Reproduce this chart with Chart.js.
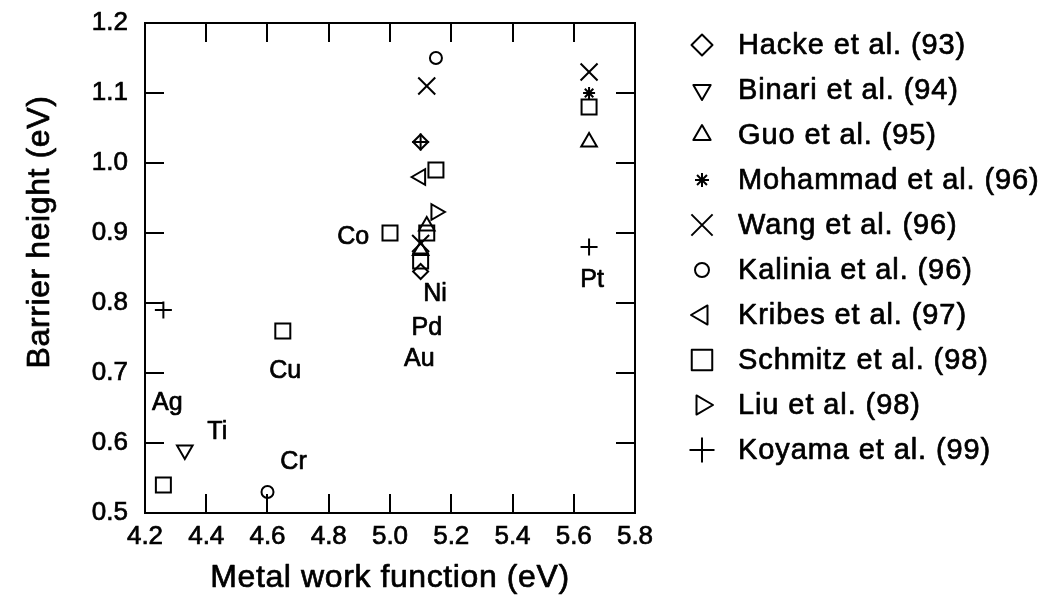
<!DOCTYPE html>
<html>
<head>
<meta charset="utf-8">
<script src="https://cdn.jsdelivr.net/npm/chart.js@4/dist/chart.umd.min.js"></script>
<style>
html,body{margin:0;padding:0;background:#fff;}
#wrap{width:1047px;height:597px;position:relative;}
</style>
</head>
<body>
<div id="wrap"><canvas id="c" width="1047" height="597"></canvas></div>
<script>
// ---- data ----
const xTickValues = [4.2, 4.4, 4.6, 4.8, 5.0, 5.2, 5.4, 5.6, 5.8];
const yTickValues = [0.5, 0.6, 0.7, 0.8, 0.9, 1.0, 1.1, 1.2];
const xTitle = 'Metal work function (eV)';
const yTitle = 'Barrier height (eV)';

const seriesNames = ['Hacke et al. (93)', 'Binari et al. (94)', 'Guo et al. (95)', 'Mohammad et al. (96)',
  'Wang et al. (96)', 'Kalinia et al. (96)', 'Kribes et al. (97)', 'Schmitz et al. (98)',
  'Liu et al. (98)', 'Koyama et al. (99)'];

const hackeX = [5.10, 5.10];            const hackeY = [1.03, 0.845];
const binariX = [4.33];                 const binariY = [0.59];
const guoX = [5.12, 5.10, 5.65];        const guoY = [0.91, 0.875, 1.03];
const mohammadX = [5.65];               const mohammadY = [1.10];
const wangX = [5.12, 5.10, 5.65];       const wangY = [1.11, 0.885, 1.13];
const kaliniaX = [5.15, 4.60];          const kaliniaY = [1.15, 0.53];
const kribesX = [5.10];                 const kribesY = [0.98];
const schmitzX = [5.15, 5.00, 5.12, 5.10, 4.65, 4.26, 5.65];
const schmitzY = [0.99, 0.90, 0.90, 0.86, 0.76, 0.54, 1.08];
const liuX = [5.15];                    const liuY = [0.93];
const koyamaX = [5.10, 4.26, 5.65];     const koyamaY = [1.03, 0.79, 0.88];

const metalNames = ['Co', 'Ni', 'Pd', 'Au', 'Pt', 'Cu', 'Ag', 'Ti', 'Cr'];
const metalX = [4.88, 5.147, 5.12, 5.096, 5.66, 4.658, 4.273, 4.436, 4.685];
const metalY = [0.894, 0.813, 0.764, 0.72, 0.833, 0.702, 0.657, 0.616, 0.572];

// ---- build ----
const zip = (xs, ys) => xs.map((x, i) => ({x: x, y: ys[i]}));
const seriesData = [
  zip(hackeX, hackeY), zip(binariX, binariY), zip(guoX, guoY), zip(mohammadX, mohammadY),
  zip(wangX, wangY), zip(kaliniaX, kaliniaY), zip(kribesX, kribesY), zip(schmitzX, schmitzY),
  zip(liuX, liuY), zip(koyamaX, koyamaY)
];
// marker styles: [pointStyle, rotation, plotRadius, legendRadius]
const styles = [
  ['rectRot', 0, 7.5, 10.5],
  ['triangle', 180, 9, 10],
  ['triangle', 0, 9, 10],
  ['star', 0, 6, 7],
  ['crossRot', 0, 12, 15],
  ['circle', 0, 6, 7],
  ['triangle', 270, 9, 11],
  ['rect', 0, 10.6, 14.5],
  ['triangle', 90, 9, 11],
  ['cross', 0, 8.5, 12.5]
];

const FONT = "'Liberation Sans', Arial, Helvetica, sans-serif";

const datasets = seriesNames.map((name, i) => ({
  label: name,
  data: seriesData[i],
  showLine: false,
  pointStyle: styles[i][0],
  pointRotation: styles[i][1],
  pointRadius: styles[i][2],
  pointHoverRadius: styles[i][2],
  pointBorderWidth: 2,
  pointHoverBorderWidth: 2,
  borderColor: '#000',
  backgroundColor: 'rgba(0,0,0,0)',
  legendRadius: styles[i][3]
}));

function strokeFill(ctx, text, x, y, w) {
  ctx.lineWidth = w;
  ctx.strokeText(text, x, y);
  ctx.fillText(text, x, y);
}

const decorPlugin = {
  id: 'decor',
  afterDraw(chart) {
    const ctx = chart.ctx;
    const xs = chart.scales.x, ys = chart.scales.y;
    const a = chart.chartArea;
    const TL = 19;
    ctx.save();
    ctx.strokeStyle = '#000';
    ctx.lineWidth = 2;
    ctx.beginPath();
    ctx.rect(a.left, a.top, a.right - a.left, a.bottom - a.top);
    ctx.stroke();
    ctx.beginPath();
    xTickValues.forEach(v => {
      const px = Math.round(xs.getPixelForValue(v));
      ctx.moveTo(px, a.bottom); ctx.lineTo(px, a.bottom - TL);
      ctx.moveTo(px, a.top); ctx.lineTo(px, a.top + TL);
    });
    yTickValues.forEach(v => {
      const py = Math.round(ys.getPixelForValue(v));
      ctx.moveTo(a.left, py); ctx.lineTo(a.left + TL, py);
      ctx.moveTo(a.right, py); ctx.lineTo(a.right - TL, py);
    });
    ctx.stroke();

    // metal labels
    ctx.fillStyle = '#000';
    ctx.strokeStyle = '#000';
    ctx.lineJoin = 'round';
    ctx.font = '25px ' + FONT;
    ctx.textAlign = 'center';
    ctx.textBaseline = 'middle';
    metalNames.forEach((m, i) => {
      strokeFill(ctx, m, xs.getPixelForValue(metalX[i]), ys.getPixelForValue(metalY[i]), 0.7);
    });

    // axis titles
    try { ctx.letterSpacing = '0.6px'; } catch (e) {}
    ctx.font = '32px ' + FONT;
    strokeFill(ctx, xTitle, (a.left + a.right) / 2, 578, 0.7);
    ctx.save();
    ctx.translate(40, 232);
    ctx.rotate(-Math.PI / 2);
    strokeFill(ctx, yTitle, 0, 0, 0.7);
    ctx.restore();

    // legend
    try { ctx.letterSpacing = '0.9px'; } catch (e) {}
    ctx.font = '29px ' + FONT;
    ctx.textAlign = 'left';
    chart.data.datasets.forEach((ds, i) => {
      const y = 45 + 45 * i;
      ctx.save();
      ctx.strokeStyle = '#000';
      ctx.fillStyle = 'rgba(0,0,0,0)';
      ctx.lineWidth = 2;
      Chart.helpers.drawPoint(ctx, {
        pointStyle: ds.pointStyle, rotation: ds.pointRotation,
        radius: ds.legendRadius, borderWidth: 2
      }, 702, y);
      ctx.restore();
      ctx.fillStyle = '#000';
      ctx.strokeStyle = '#000';
      strokeFill(ctx, ds.label, 738, y + 1, 0.7);
    });
    ctx.restore();
  }
};

new Chart(document.getElementById('c'), {
  type: 'scatter',
  data: { datasets: datasets },
  options: {
    responsive: false,
    animation: false,
    devicePixelRatio: 1,
    layout: { padding: { left: 0, top: 23, right: 412, bottom: 0 } },
    plugins: { legend: { display: false }, tooltip: { enabled: false } },
    scales: {
      x: {
        type: 'linear', min: 4.2, max: 5.8,
        grid: { display: false, drawTicks: false }, border: { display: false },
        afterBuildTicks: s => { s.ticks = xTickValues.map(v => ({ value: v })); },
        afterFit: s => { s.height = 84; },
        ticks: { color: '#000', padding: 8, maxRotation: 0, autoSkip: false,
          textStrokeColor: '#000', textStrokeWidth: 0.7,
          font: { family: FONT, size: 26 }, callback: v => Number(v).toFixed(1) }
      },
      y: {
        type: 'linear', min: 0.5, max: 1.2,
        grid: { display: false, drawTicks: false }, border: { display: false },
        afterBuildTicks: s => { s.ticks = yTickValues.map(v => ({ value: v })); },
        afterFit: s => { s.width = 145; },
        ticks: { color: '#000', padding: 17, autoSkip: false,
          textStrokeColor: '#000', textStrokeWidth: 0.7,
          font: { family: FONT, size: 26, lineHeight: 0.4 }, callback: v => Number(v).toFixed(1) }
      }
    }
  },
  plugins: [decorPlugin]
});
</script>
</body>
</html>
